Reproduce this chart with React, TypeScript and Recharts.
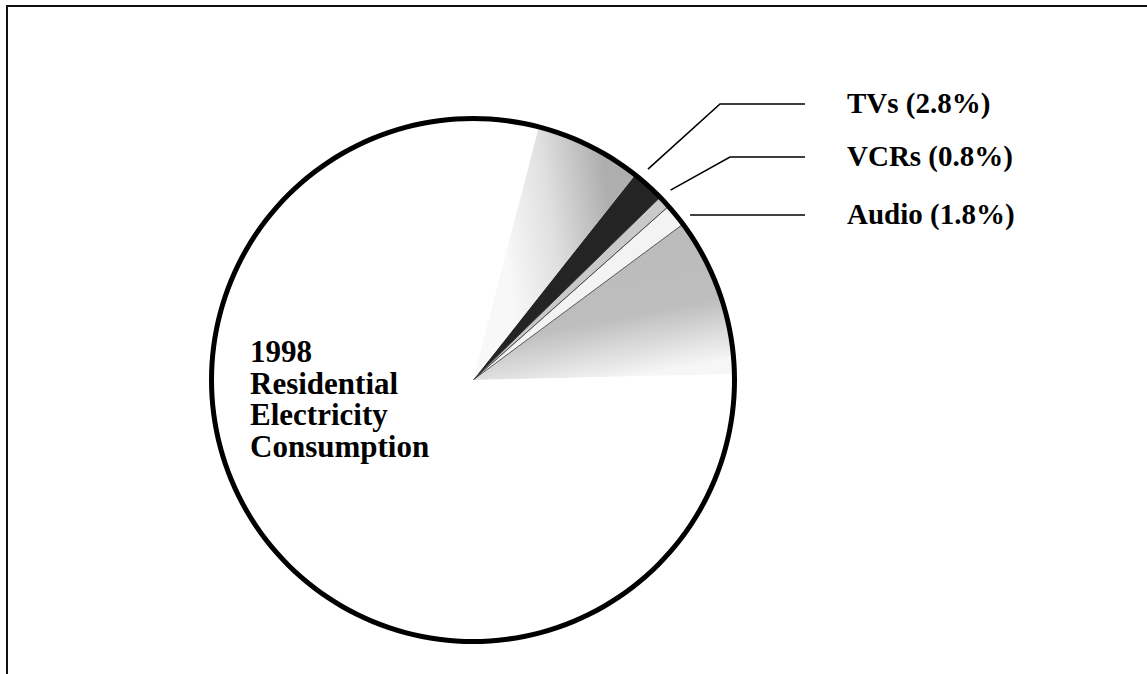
import { Cell, Pie, PieChart } from "recharts";

// slice shares (percent of total), counter-clockwise from 3 o'clock
const categories = ["Group A", "Audio", "VCRs", "TVs", "Group B", "Other uses"];
const shares = [9.8, 1.4, 0.75, 2.05, 6.6, 79.4];
const labelTexts: Record<string, string> = {
  TVs: "TVs (2.8%)",
  VCRs: "VCRs (0.8%)",
  Audio: "Audio (1.8%)",
};
const titleLines = ["1998", "Residential", "Electricity", "Consumption"];

const data = categories.map((name, i) => ({ name, value: shares[i] }));

const fills: Record<string, string> = {
  "Other uses": "#ffffff",
  "Group A": "url(#grayFade)",
  Audio: "#f3f3f3",
  VCRs: "#c9c9c9",
  TVs: "#242424",
  "Group B": "url(#lightFade)",
};

// leader line layout: small shift of start angle, elbow x and label row
const leaders: Record<string, { shift: number; elbow: number | null; y: number }> = {
  TVs: { shift: 2.3, elbow: 720, y: 104 },
  VCRs: { shift: 0.9, elbow: 730, y: 157 },
  Audio: { shift: -1.5, elbow: null, y: 215 },
};

const RAD = Math.PI / 180;
const FONT = "'Liberation Serif', 'Times New Roman', serif";

function leaderLabel(props: any) {
  const { cx, cy, midAngle, outerRadius, name } = props;
  const cfg = leaders[name];
  if (!cfg) return null;
  const a = (midAngle + cfg.shift) * RAD;
  const r = outerRadius + 12;
  const sx = cx + r * Math.cos(a);
  const sy = cy - r * Math.sin(a);
  const pts =
    cfg.elbow === null
      ? `${sx},${cfg.y} 805,${cfg.y}`
      : `${sx},${sy} ${cfg.elbow},${cfg.y} 805,${cfg.y}`;
  return (
    <g key={name}>
      <polyline points={pts} fill="none" stroke="#000" strokeWidth={1.6} />
      <text
        x={847}
        y={cfg.y + 9}
        fontFamily={FONT}
        fontWeight="bold"
        fontSize={29}
        fill="#000"
      >
        {labelTexts[name]}
      </text>
    </g>
  );
}

export default function App() {
  return (
    <div
      style={{
        position: "absolute",
        left: 0,
        top: 0,
        width: 1147,
        height: 674,
        overflow: "hidden",
        background: "#fff",
      }}
    >
      <div
        style={{
          position: "absolute",
          left: 6,
          top: 5,
          width: 1200,
          height: 700,
          borderTop: "2.5px solid #111",
          borderLeft: "2.5px solid #111",
        }}
      />
      <div style={{ position: "absolute", left: 0, top: 0 }}>
        <PieChart width={1147} height={674} margin={{ top: 0, right: 0, bottom: 0, left: 0 }}>
          <defs>
            <linearGradient id="grayFade" x1="0.3" y1="0.2" x2="0.55" y2="1">
              <stop offset="0" stopColor="#bbbbbb" />
              <stop offset="0.55" stopColor="#bebebe" />
              <stop offset="1" stopColor="#f6f6f6" />
            </linearGradient>
            <linearGradient id="lightFade" x1="0.2" y1="0.5" x2="0.85" y2="0.35">
              <stop offset="0" stopColor="#f8f8f8" />
              <stop offset="0.45" stopColor="#e0e0e0" />
              <stop offset="1" stopColor="#aeaeae" />
            </linearGradient>
          </defs>
          <Pie
            data={data}
            dataKey="value"
            nameKey="name"
            cx={473}
            cy={380}
            outerRadius={262}
            startAngle={1.3}
            endAngle={361.3}
            stroke="none"
            label={leaderLabel}
            labelLine={false}
            isAnimationActive={false}
          >
            {data.map((d) => (
              <Cell
                key={d.name}
                fill={fills[d.name]}
                stroke={d.name === "Audio" || d.name === "VCRs" ? "#333" : "none"}
                strokeWidth={0.8}
              />
            ))}
          </Pie>
          <Pie
            data={[{ name: "rim", value: 1 }]}
            dataKey="value"
            cx={473}
            cy={380}
            innerRadius={259}
            outerRadius={264}
            startAngle={90}
            endAngle={450}
            fill="#000"
            stroke="none"
            isAnimationActive={false}
          />
        </PieChart>
      </div>
      <div
        style={{
          position: "absolute",
          left: 250,
          top: 336,
          fontFamily: FONT,
          fontWeight: "bold",
          fontSize: 31,
          lineHeight: "31.7px",
          color: "#000",
        }}
      >
        {titleLines.map((t) => (
          <div key={t}>{t}</div>
        ))}
      </div>
    </div>
  );
}
